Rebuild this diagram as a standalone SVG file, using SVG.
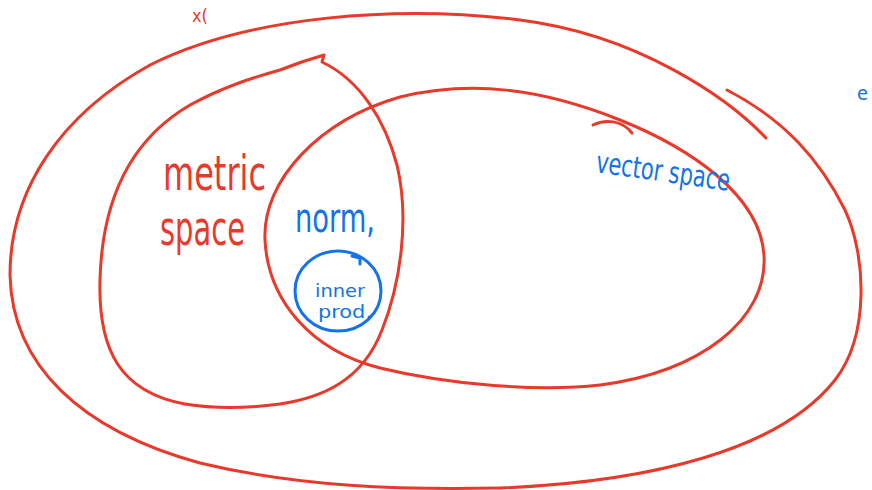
<svg xmlns="http://www.w3.org/2000/svg" width="872" height="490" viewBox="0 0 872 490">
<style>
.r{fill:none;stroke:#e8392a;stroke-width:3;stroke-linecap:round;stroke-linejoin:round}
.b{fill:none;stroke:#1273ea;stroke-width:3;stroke-linecap:round;stroke-linejoin:round}
.tr{fill:#e8392a;font-family:"DejaVu Sans Condensed","Liberation Sans",sans-serif}
.tb{fill:#1273ea;font-family:"DejaVu Sans Condensed","Liberation Sans",sans-serif}
</style>
<rect width="872" height="490" fill="#ffffff"/>
<g id="universe">
<path class="r" d="M766,138 C730,100 640,35 520,20 C400,5 250,15 150,65 C60,115 10,190 10,275 C12,365 80,430 200,463 C300,487 400,490 500,488 C650,482 780,450 835,380 C870,335 866,255 845,210 C820,160 785,120 727,90"/>
<text class="tr" x="192" y="22" font-size="18">x(</text>
<text class="tb" x="857" y="100" font-size="20">e</text>
</g>
<g id="metric-space">
<path class="r" d="M280,70 C295,64 310,59 324,55 L322,62 C360,80 385,120 397,165 C410,220 400,285 382,330 C362,382 320,398 280,404 C250,408 215,409 185,404 C120,392 98,350 100,280 C102,200 130,140 190,105 C225,86 255,77 280,70"/>
<text class="tr" x="163" y="190" font-size="48" textLength="103" lengthAdjust="spacingAndGlyphs">metric</text>
<text class="tr" x="160" y="245" font-size="48" textLength="85" lengthAdjust="spacingAndGlyphs">space</text>
</g>
<g id="vector-space">
<path class="r" d="M265,240 C262,180 320,120 400,97 C470,80 540,88 620,120 C690,148 760,195 764,255 C768,320 700,372 600,385 C540,392 450,385 380,368 C310,350 268,300 265,240 Z"/>
<path class="r" d="M593,125 C605,119 622,120 632,133"/>
<text class="tb" x="595" y="172" font-size="30" textLength="135" lengthAdjust="spacingAndGlyphs" transform="rotate(8 595 172)">vector space</text>
</g>
<g id="normed-space">
<text class="tb" x="295" y="232" font-size="40" textLength="80" lengthAdjust="spacingAndGlyphs">norm,</text>
</g>
<g id="inner-product-space">
<ellipse class="b" cx="338" cy="291" rx="43" ry="40"/>
<path class="b" d="M352,256 L360,258 L360,264"/>
<text class="tb" x="315" y="297" font-size="18" textLength="50" lengthAdjust="spacingAndGlyphs">inner</text>
<text class="tb" x="318" y="318" font-size="18" textLength="54" lengthAdjust="spacingAndGlyphs">prod,</text>
</g>
</svg>
